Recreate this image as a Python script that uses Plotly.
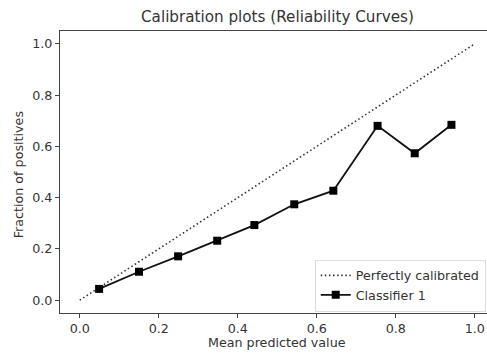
import plotly.graph_objects as go

mean_pred = [0.049, 0.150, 0.249, 0.348, 0.442, 0.543, 0.642, 0.754, 0.848, 0.941]
frac_pos = [0.044, 0.111, 0.171, 0.232, 0.293, 0.374, 0.427, 0.680, 0.573, 0.684]
diag = [0, 1]
ticks = [0.0, 0.2, 0.4, 0.6, 0.8, 1.0]
tick_text = ["0.0", "0.2", "0.4", "0.6", "0.8", "1.0"]

FONT = "DejaVu Sans"
FS = 12.7
fig = go.Figure()
fig.add_trace(go.Scatter(x=diag, y=diag, mode="lines", name="Perfectly calibrated",
                         line=dict(color="#333", dash="1.5px,2.6px", width=1.6)))
fig.add_trace(go.Scatter(x=mean_pred, y=frac_pos, mode="lines+markers", name="Classifier 1",
                         line=dict(color="#111", width=1.8),
                         marker=dict(symbol="square", size=8, color="black")))

axis_common = dict(showgrid=False, zeroline=False, showline=True, linecolor="#444", linewidth=1,
                   ticks="outside", ticklen=4, tickcolor="#444", tickvals=ticks, ticktext=tick_text,
                   tickfont=dict(family=FONT, size=FS, color="#333"))
fig.update_xaxes(range=[-0.05, 1.031], mirror=True, **axis_common)
fig.update_yaxes(range=[-0.05, 1.05], **axis_common)

fig.update_layout(
    width=487, height=354,
    margin=dict(l=60, r=0, t=31, b=41),
    plot_bgcolor="white", paper_bgcolor="white",
    font=dict(family=FONT, size=FS, color="#333"),
    showlegend=True,
    legend=dict(x=0.997, xanchor="right", y=0.005, yanchor="bottom",
                bgcolor="rgba(255,255,255,0.8)", bordercolor="#ddd", borderwidth=1,
                font=dict(family=FONT, size=FS, color="#333"), tracegroupgap=0),
    annotations=[
        dict(text="Calibration plots (Reliability Curves)", x=0.5, xref="x", y=1, yref="paper",
             yanchor="bottom", yshift=3, showarrow=False, font=dict(family=FONT, size=15.2, color="#333")),
        dict(text="Mean predicted value", x=0.5, xref="x", y=0, yref="paper",
             yanchor="top", yshift=-20, showarrow=False, font=dict(family=FONT, size=FS, color="#333")),
        dict(text="Fraction of positives", x=0, xref="paper", xshift=-51, y=0.49, yref="paper",
             textangle=-90, showarrow=False, font=dict(family=FONT, size=FS, color="#333")),
    ],
)
fig.write_html("out.html")
